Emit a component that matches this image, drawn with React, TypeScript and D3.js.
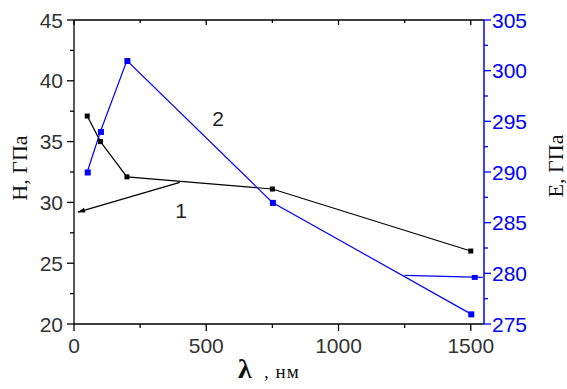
import React from "react";
import * as d3 from "d3";

const wavelength = [50, 100, 200, 750, 1500];
const hardness = [37.1, 35.0, 32.1, 31.1, 26.0];
const modulus = [290, 294, 301, 287, 276];

// pointer arrows: [x, value]
const arrowH: [number, number][] = [[400, 31.65], [15, 29.2]];
const arrowE: [number, number][] = [[1250, 279.8], [1545, 279.6]];

const xTicks = [0, 500, 1000, 1500];
const xMinor = [250, 750, 1250];
const hTicks = [20, 25, 30, 35, 40, 45];
const hMinor = [22.5, 27.5, 32.5, 37.5, 42.5];
const eTicks = [275, 280, 285, 290, 295, 300, 305];
const eMinor = [277.5, 282.5, 287.5, 292.5, 297.5, 302.5];

const W = 567, H = 389;
const L = 74, R = 484, T = 20, B = 324;
const BLUE = "#0000ff";
const SANS = "Arial, 'Liberation Sans', sans-serif";
const SERIF = "'Times New Roman', 'Liberation Serif', serif";

export default function App() {
  const x = d3.scaleLinear().domain([0, 1550]).range([L, R]);
  const yH = d3.scaleLinear().domain([20, 45]).range([B, T]);
  const yE = d3.scaleLinear().domain([275, 305]).range([B, T]);

  const lineH = d3.line<number>().x((_, i) => x(wavelength[i])).y((d) => yH(d));
  const lineE = d3.line<number>().x((_, i) => x(wavelength[i])).y((d) => yE(d));
  const arrH = d3.line<[number, number]>().x((d) => x(d[0])).y((d) => yH(d[1]));
  const arrE = d3.line<[number, number]>().x((d) => x(d[0])).y((d) => yE(d[1]));

  const ms = 5;
  const hEnd = arrowH[1];
  const hStart = arrowH[0];
  const ax = x(hEnd[0]), ay = yH(hEnd[1]);
  const ang = Math.atan2(yH(hStart[1]) - ay, x(hStart[0]) - ax);
  const al = 7, aw = 2.5;
  const p1 = [ax + al * Math.cos(ang) - aw * Math.sin(ang), ay + al * Math.sin(ang) + aw * Math.cos(ang)];
  const p2 = [ax + al * Math.cos(ang) + aw * Math.sin(ang), ay + al * Math.sin(ang) - aw * Math.cos(ang)];

  return (
    <svg width={W} height={H} style={{ position: "absolute", left: 0, top: 0, background: "#fff" }}>
      <rect width={W} height={H} fill="#fff" />
      {/* frame */}
      <line x1={L} y1={T} x2={R} y2={T} stroke="#000" strokeWidth={1.3} />
      <line x1={L} y1={B} x2={R} y2={B} stroke="#000" strokeWidth={1.3} />
      <line x1={L} y1={T} x2={L} y2={B} stroke="#000" strokeWidth={1.3} />
      <line x1={R} y1={T} x2={R} y2={B} stroke={BLUE} strokeWidth={1.5} />

      {/* bottom axis ticks */}
      {xTicks.map((t) => (
        <g key={"xt" + t}>
          <line x1={x(t)} x2={x(t)} y1={B} y2={B + 7} stroke="#000" strokeWidth={1.3} />
          <line x1={x(t)} x2={x(t)} y1={T} y2={T + 5} stroke="#000" strokeWidth={1.3} />
          <text x={x(t)} y={353} textAnchor="middle" fontFamily={SANS} fontSize={21} fill="#333">{t}</text>
        </g>
      ))}
      {xMinor.map((t) => (
        <g key={"xm" + t}>
          <line x1={x(t)} x2={x(t)} y1={B} y2={B + 4} stroke="#000" strokeWidth={1.3} />
          <line x1={x(t)} x2={x(t)} y1={T} y2={T + 3} stroke="#000" strokeWidth={1.3} />
        </g>
      ))}

      {/* left axis */}
      {hTicks.map((t) => (
        <g key={"ht" + t}>
          <line x1={L - 7} x2={L} y1={yH(t)} y2={yH(t)} stroke="#000" strokeWidth={1.3} />
          <text x={L - 11} y={yH(t) + 7.5} textAnchor="end" fontFamily={SANS} fontSize={21} fill="#333">{t}</text>
        </g>
      ))}
      {hMinor.map((t) => (
        <line key={"hm" + t} x1={L - 4} x2={L} y1={yH(t)} y2={yH(t)} stroke="#000" strokeWidth={1.3} />
      ))}

      {/* right axis */}
      {eTicks.map((t) => (
        <g key={"et" + t}>
          <line x1={R} x2={R + 7} y1={yE(t)} y2={yE(t)} stroke={BLUE} strokeWidth={1.3} />
          <text x={R + 8} y={yE(t) + 7.5} textAnchor="start" fontFamily={SANS} fontSize={21} fill={BLUE}>{t}</text>
        </g>
      ))}
      {eMinor.map((t) => (
        <line key={"em" + t} x1={R} x2={R + 4} y1={yE(t)} y2={yE(t)} stroke={BLUE} strokeWidth={1.3} />
      ))}

      {/* series */}
      <path d={lineH(hardness) ?? ""} fill="none" stroke="#000" strokeWidth={1.2} />
      <path d={lineE(modulus) ?? ""} fill="none" stroke={BLUE} strokeWidth={1.2} />
      {hardness.map((v, i) => (
        <rect key={"hp" + i} x={x(wavelength[i]) - ms / 2} y={yH(v) - ms / 2} width={ms} height={ms} fill="#000" />
      ))}
      {modulus.map((v, i) => (
        <rect key={"ep" + i} x={x(wavelength[i]) - ms / 2} y={yE(v) - ms / 2} width={ms + 1} height={ms + 1} fill={BLUE} />
      ))}

      {/* pointer arrows */}
      <path d={arrH(arrowH) ?? ""} fill="none" stroke="#000" strokeWidth={1.2} />
      <polygon points={`${ax},${ay} ${p1[0]},${p1[1]} ${p2[0]},${p2[1]}`} fill="#000" />
      <path d={arrE(arrowE) ?? ""} fill="none" stroke={BLUE} strokeWidth={1.3} />
      <rect x={x(1515) - 3} y={yE(279.6) - 2.5} width={6} height={5} fill={BLUE} />

      {/* curve labels */}
      <text x={181} y={218} textAnchor="middle" fontFamily={SANS} fontSize={21} fill="#222">1</text>
      <text x={218} y={126} textAnchor="middle" fontFamily={SANS} fontSize={21} fill="#222">2</text>

      {/* axis titles */}
      <text transform="translate(27,168) rotate(-90)" textAnchor="middle" fontFamily={SERIF} fontSize={22} fill="#111">H, ГПа</text>
      <text transform="translate(563,166) rotate(-90)" textAnchor="middle" fontFamily={SERIF} fontSize={22} fill="#111">E, ГПа</text>
      <text x={238} y={378} fontFamily={SERIF} fontSize={28} fontWeight="bold" fill="#111">λ</text>
      <text x={264} y={378} fontFamily={SERIF} fontSize={19} fill="#111" letterSpacing={1}>, нм</text>
    </svg>
  );
}
